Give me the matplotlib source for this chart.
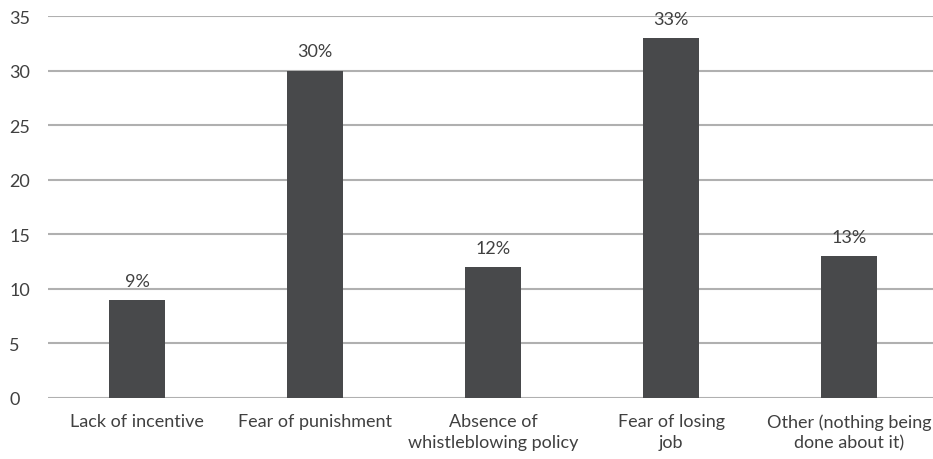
import matplotlib
matplotlib.use("Agg")
import matplotlib.pyplot as plt

categories = ["Lack of incentive", "Fear of punishment", "Absence of\nwhistleblowing policy",
              "Fear of losing\njob", "Other (nothing being\ndone about it)"]
values = [9, 30, 12, 33, 13]
labels = ["9%", "30%", "12%", "33%", "13%"]

plt.rcParams['font.family'] = ['Lato', 'DejaVu Sans']
text_color = "#404040"

fig = plt.figure(figsize=(9.33, 4.6), dpi=100)
ax = fig.add_axes([48 / 933, 61 / 460, 890 / 933, 382 / 460])

x = range(len(categories))
bars = ax.bar(x, values, width=0.315, color="#48494b", zorder=3)
for b, lab in zip(bars, labels):
    ax.annotate(lab, (b.get_x() + b.get_width() / 2, b.get_height()),
                xytext=(0, 8), textcoords="offset points", ha="center", va="bottom",
                fontsize=13, color=text_color)

ax.set_xlim(-0.5, 4.5)
ax.set_ylim(0, 35)
ax.set_yticks(range(0, 36, 5))
ax.set_xticks(list(x))
ax.set_xticklabels(categories, fontsize=13, color=text_color, linespacing=1.35)
ax.tick_params(axis="y", labelsize=13, labelcolor=text_color, length=0, pad=28)
ax.tick_params(axis="x", length=0, pad=11)
ax.yaxis.grid(True, color="#b0b0b0", linewidth=1.5, zorder=0)
for s in ax.spines.values():
    s.set_visible(False)
for t in ax.get_yticklabels():
    t.set_horizontalalignment("left")

fig.savefig("out.png", dpi=100)
